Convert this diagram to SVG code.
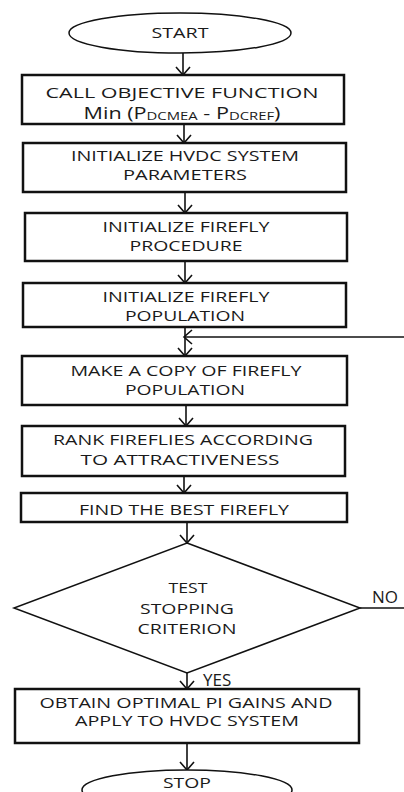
<svg xmlns="http://www.w3.org/2000/svg" width="404" height="792" viewBox="0 0 404 792">
<style>
.box{fill:#fff;stroke:#111;stroke-width:2.5}
.term{fill:#fff;stroke:#111;stroke-width:1.5}
.dia{fill:#fff;stroke:#111;stroke-width:1.5}
.t{font-family:"Open Sans","Liberation Sans",sans-serif;font-size:14px;fill:#1a1a1a;text-anchor:middle}
.lbl{font-family:"Open Sans","Liberation Sans",sans-serif;font-size:17px;fill:#1a1a1a}
.c{stroke:#111;stroke-width:1.6;fill:none}
</style>
<defs>
<marker id="ah" markerUnits="userSpaceOnUse" markerWidth="12" markerHeight="16" refX="9" refY="7" orient="auto" viewBox="0 0 12 14">
<path d="M1,0 L9,7 L1,14" fill="none" stroke="#111" stroke-width="1.6"/>
</marker>
</defs>
<rect width="404" height="792" fill="#fff"/>
<g id="connectors">
<line class="c" x1="183" y1="53" x2="183" y2="75" marker-end="url(#ah)"/>
<line class="c" x1="184" y1="124" x2="184" y2="143" marker-end="url(#ah)"/>
<line class="c" x1="185" y1="192" x2="185" y2="213" marker-end="url(#ah)"/>
<line class="c" x1="185" y1="261" x2="185" y2="283" marker-end="url(#ah)"/>
<line class="c" x1="185" y1="327" x2="185" y2="356" marker-end="url(#ah)"/>
<line class="c" x1="404" y1="337" x2="184" y2="337" marker-end="url(#ah)"/>
<line class="c" x1="186" y1="405" x2="186" y2="426" marker-end="url(#ah)"/>
<line class="c" x1="184" y1="476" x2="184" y2="493" marker-end="url(#ah)"/>
<line class="c" x1="187" y1="522" x2="187" y2="543" marker-end="url(#ah)"/>
<line class="c" x1="360" y1="608" x2="404" y2="608"/>
<line class="c" x1="187" y1="673" x2="187" y2="689" marker-end="url(#ah)"/>
<line class="c" x1="187" y1="743" x2="187" y2="770" marker-end="url(#ah)"/>
<text class="lbl" x="372" y="603">NO</text>
<text class="lbl" x="203" y="686">YES</text>
</g>
<g id="start">
<ellipse class="term" cx="180" cy="33" rx="111" ry="20"/>
<text class="t" x="180" y="38" textLength="57" lengthAdjust="spacingAndGlyphs">START</text>
</g>
<g id="objective">
<rect class="box" x="22" y="75" width="322" height="49"/>
<text class="t" x="182" y="98" textLength="273" lengthAdjust="spacingAndGlyphs">CALL OBJECTIVE FUNCTION</text>
<text class="t" x="182" y="119" style="font-size:16px" textLength="197" lengthAdjust="spacingAndGlyphs">Min (P<tspan style="font-size:11px" dy="1">DCMEA</tspan><tspan dy="-1"> - P</tspan><tspan style="font-size:11px" dy="1">DCREF</tspan><tspan dy="-1">)</tspan></text>
</g>
<g id="init-hvdc">
<rect class="box" x="23" y="143" width="323" height="49"/>
<text class="t" x="185" y="161" textLength="228" lengthAdjust="spacingAndGlyphs">INITIALIZE HVDC SYSTEM</text>
<text class="t" x="185" y="180" textLength="124" lengthAdjust="spacingAndGlyphs">PARAMETERS</text>
</g>
<g id="init-procedure">
<rect class="box" x="25" y="213" width="322" height="48"/>
<text class="t" x="186" y="232" textLength="167" lengthAdjust="spacingAndGlyphs">INITIALIZE FIREFLY</text>
<text class="t" x="186" y="251" textLength="113" lengthAdjust="spacingAndGlyphs">PROCEDURE</text>
</g>
<g id="init-population">
<rect class="box" x="23" y="283" width="323" height="44"/>
<text class="t" x="186" y="302" textLength="167" lengthAdjust="spacingAndGlyphs">INITIALIZE FIREFLY</text>
<text class="t" x="185" y="321" textLength="120" lengthAdjust="spacingAndGlyphs">POPULATION</text>
</g>
<g id="copy-population">
<rect class="box" x="22" y="356" width="325" height="49"/>
<text class="t" x="186" y="376" textLength="231" lengthAdjust="spacingAndGlyphs">MAKE A COPY OF FIREFLY</text>
<text class="t" x="185" y="395" textLength="120" lengthAdjust="spacingAndGlyphs">POPULATION</text>
</g>
<g id="rank">
<rect class="box" x="22" y="426" width="323" height="50"/>
<text class="t" x="183" y="445" textLength="260" lengthAdjust="spacingAndGlyphs">RANK FIREFLIES ACCORDING</text>
<text class="t" x="180" y="465" textLength="199" lengthAdjust="spacingAndGlyphs">TO ATTRACTIVENESS</text>
</g>
<g id="best">
<rect class="box" x="21" y="493" width="326" height="29"/>
<text class="t" x="184" y="515" textLength="210" lengthAdjust="spacingAndGlyphs">FIND THE BEST FIREFLY</text>
</g>
<g id="test">
<polygon class="dia" points="187,543 360,608 187,673 14,608"/>
<text class="t" x="188" y="593" textLength="39" lengthAdjust="spacingAndGlyphs">TEST</text>
<text class="t" x="187" y="614" textLength="94" lengthAdjust="spacingAndGlyphs">STOPPING</text>
<text class="t" x="187" y="634" textLength="99" lengthAdjust="spacingAndGlyphs">CRITERION</text>
</g>
<g id="obtain">
<rect class="box" x="15" y="689" width="344" height="54"/>
<text class="t" x="186" y="708" textLength="293" lengthAdjust="spacingAndGlyphs">OBTAIN OPTIMAL PI GAINS AND</text>
<text class="t" x="187" y="726" textLength="224" lengthAdjust="spacingAndGlyphs">APPLY TO HVDC SYSTEM</text>
</g>
<g id="stop">
<ellipse class="term" cx="187" cy="790" rx="105" ry="20"/>
<text class="t" x="187" y="788" textLength="48" lengthAdjust="spacingAndGlyphs">STOP</text>
</g>
</svg>
